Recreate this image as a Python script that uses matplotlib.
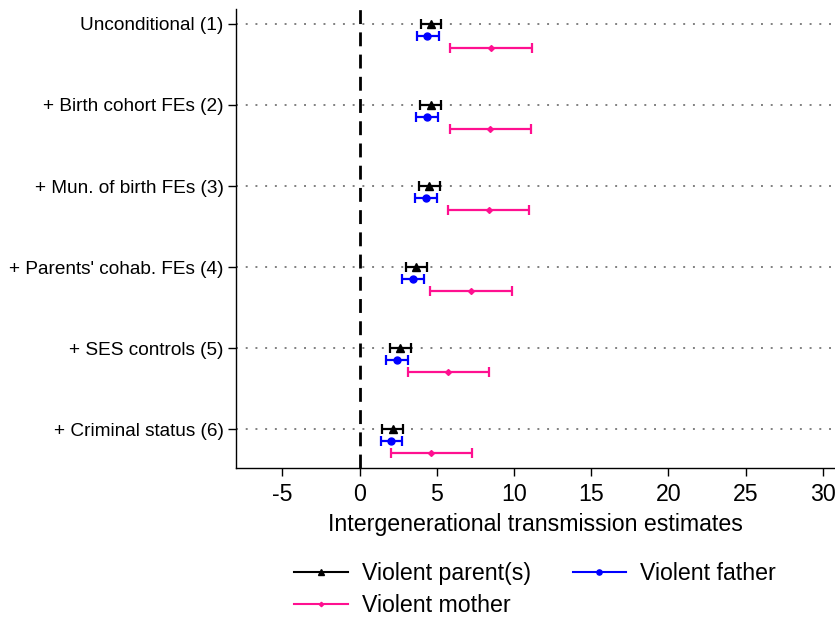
# -*- coding: utf-8 -*-

import matplotlib
matplotlib.use('Agg')
import matplotlib.pyplot as plt
import numpy as np

plt.rcParams['font.family'] = ['Liberation Sans', 'DejaVu Sans']

specs = ['Unconditional (1)', '+ Birth cohort FEs (2)', '+ Mun. of birth FEs (3)',
         "+ Parents' cohab. FEs (4)", '+ SES controls (5)', '+ Criminal status (6)']

# point estimates and 95% CI bounds, one value per specification
parent_est = [4.64, 4.60, 4.53, 3.67, 2.63, 2.14]
parent_lo = [3.97, 3.93, 3.86, 3.02, 1.99, 1.47]
parent_hi = [5.29, 5.29, 5.22, 4.36, 3.32, 2.83]

father_est = [4.40, 4.38, 4.29, 3.45, 2.42, 2.05]
father_lo = [3.73, 3.69, 3.60, 2.76, 1.73, 1.36]
father_hi = [5.16, 5.11, 5.01, 4.17, 3.11, 2.78]

mother_est = [8.52, 8.48, 8.37, 7.21, 5.74, 4.66]
mother_lo = [5.89, 5.85, 5.74, 4.58, 3.11, 2.05]
mother_hi = [11.16, 11.11, 11.00, 9.88, 8.40, 7.31]

xticks = [-5, 0, 5, 10, 15, 20, 25, 30]


def coef_plot():
    fig = plt.figure(figsize=(8.35, 6.19), dpi=100)
    ax = fig.add_axes([0.2826, 0.2439, 0.7174, 0.7416])

    ypos = np.arange(len(specs), 0, -1).astype(float)

    series = [
        (parent_est, parent_lo, parent_hi, 0.0, 'black', '^', 5.5, 'Violent parent(s)'),
        (father_est, father_lo, father_hi, 0.15, 'blue', 'o', 5, 'Violent father'),
        (mother_est, mother_lo, mother_hi, 0.30, '#ff1090', 'D', 3, 'Violent mother'),
    ]
    handles = {}
    for est, lo, hi, off, col, mk, ms, lab in series:
        est = np.array(est)
        err = [est - np.array(lo), np.array(hi) - est]
        ax.errorbar(est, ypos - off, xerr=err, fmt='none', ecolor=col,
                    elinewidth=1.6, capsize=3.5, capthick=1.6, zorder=3)
        ax.plot(est, ypos - off, linestyle='none', marker=mk, markersize=ms,
                color=col, zorder=4)
        h, = ax.plot([], [], color=col, marker=mk, markersize=ms * 0.75,
                     linewidth=1.5, label=lab)
        handles[lab] = h

    for y in ypos:
        ax.axhline(y, color='gray', linestyle=(0, (1, 4)), linewidth=1.4, zorder=1)
    ax.axvline(0, color='black', linestyle=(0, (5, 3)), linewidth=2, zorder=2)

    ax.set_xlim(-8, 30.79)
    ax.set_ylim(0.52, 6.185)
    ax.set_yticks(ypos)
    ax.set_yticklabels(specs, fontsize=13.7)
    ax.set_xticks(xticks)
    ax.set_xticklabels([str(t) for t in xticks], fontsize=16.7)
    ax.tick_params(axis='both', direction='out', length=6, width=1, colors='black')
    ax.tick_params(axis='x', pad=5)
    ax.tick_params(axis='y', pad=3)
    ax.spines['top'].set_visible(False)
    ax.spines['right'].set_visible(False)
    ax.spines['left'].set_linewidth(1)
    ax.spines['bottom'].set_linewidth(1)
    ax.set_xlabel('Intergenerational transmission estimates', fontsize=16.7, labelpad=4.6)

    # column-major fill: parent / mother in column 1, father in column 2
    order = ['Violent parent(s)', 'Violent mother', 'Violent father']
    fig.legend(handles=[handles[k] for k in order], ncol=2, loc='upper left',
               bbox_to_anchor=(0.3526, 0.092), frameon=False, fontsize=16.7,
               handlelength=2.3, handletextpad=0.6, columnspacing=1.81,
               labelspacing=0.38, borderaxespad=0, borderpad=0)

    fig.savefig('out.png', dpi=100)


if __name__ == '__main__':
    coef_plot()
